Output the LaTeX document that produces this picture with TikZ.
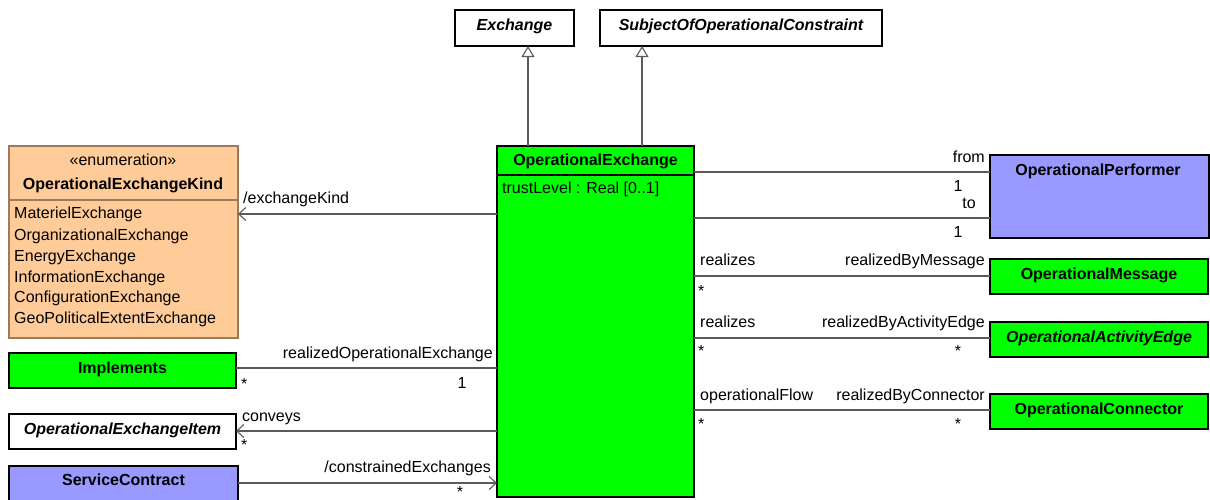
\documentclass[tikz,border=0pt]{standalone}
\usepackage{fontspec}
\setmainfont{Liberation Sans}
\usetikzlibrary{arrows.meta}
\definecolor{umlgreen}{HTML}{00FF00}
\definecolor{umlblue}{HTML}{9999FF}
\definecolor{umlorange}{HTML}{FFCC99}
\definecolor{enumborder}{HTML}{9C7A5B}
\definecolor{linegray}{HTML}{5A5A5A}
\begin{document}
\begin{tikzpicture}[x=1pt,y=-1pt,
  every node/.style={font=\fontsize{16}{19}\selectfont},
  box/.style={draw=black, line width=1.2pt, anchor=north west, inner sep=0pt, outer sep=0pt},
  lbl/.style={inner sep=0pt, text height=11.5pt, text depth=3.4pt},
  title/.style={lbl, font=\fontsize{16}{19}\selectfont\bfseries},
  ititle/.style={lbl, font=\fontsize{16}{19}\selectfont\bfseries\itshape},
  assoc/.style={draw=linegray, line width=1.1pt},
  nav/.style={assoc, -{Straight Barb[length=7pt,width=13pt,line width=1.1pt]}},
  gen/.style={assoc, -{Triangle[length=11pt,width=13pt,fill=white,line width=1.1pt]}},
]
\useasboundingbox (0,0) rectangle (1210,499);

% ---- boxes ----
\node[box, fill=white, minimum width=119pt, minimum height=36pt] (exch) at (455,10) {};
\node[ititle] (exchT) at ([yshift=1.5pt]exch.center) {Exchange};
\node[box, fill=white, minimum width=282pt, minimum height=36pt] (sooc) at (600,10) {};
\node[ititle] (soocT) at ([yshift=1.5pt]sooc.center) {SubjectOfOperationalConstraint};

\node[box, fill=umlgreen, minimum width=197pt, minimum height=351pt] (oe) at (497,146) {};
\coordinate (oeSepL) at (497,175);
\coordinate (oeSepR) at (694,175);
\draw[line width=1.2pt] (oeSepL) -- (oeSepR);
\node[title] (oeT) at (595.5,161.5) {OperationalExchange};
\node[lbl, anchor=west] (oeA) at (502,189.5) {trustLevel : Real [0..1]};

\node[box, draw=enumborder, fill=umlorange, minimum width=229pt, minimum height=192pt] (enum) at (9,146) {};
\coordinate (enSepL) at (9,200);
\coordinate (enSepR) at (238,200);
\draw[line width=1.2pt, draw=enumborder] (enSepL) -- (enSepR);
\node[lbl] (enS) at (123,161.5) {«enumeration»};
\node[title] (enT) at (123,185.5) {OperationalExchangeKind};
\node[lbl, anchor=west] (en1) at (14,214.7) {MaterielExchange};
\node[lbl, anchor=west] (en2) at (14,236.2) {OrganizationalExchange};
\node[lbl, anchor=west] (en3) at (14,257.2) {EnergyExchange};
\node[lbl, anchor=west] (en4) at (14,278.2) {InformationExchange};
\node[lbl, anchor=west] (en5) at (14,298.7) {ConfigurationExchange};
\node[lbl, anchor=west] (en6) at (14,319.2) {GeoPoliticalExtentExchange};

\node[box, fill=umlgreen, minimum width=227pt, minimum height=35pt] (impl) at (9,353) {};
\node[title] (implT) at ([yshift=1.5pt]impl.center) {Implements};
\node[box, fill=white, minimum width=227pt, minimum height=35pt] (oei) at (9,414) {};
\node[ititle] (oeiT) at ([yshift=1.5pt]oei.center) {OperationalExchangeItem};
\node[box, fill=umlblue, minimum width=229pt, minimum height=36pt] (sc) at (9,466) {};
\node[title] (scT) at (123.5,481.5) {ServiceContract};

\node[box, fill=umlblue, minimum width=219pt, minimum height=83pt] (op) at (990,155) {};
\node[title] (opT) at (1098,171.5) {OperationalPerformer};
\node[box, fill=umlgreen, minimum width=218pt, minimum height=35pt] (om) at (990,259) {};
\node[title] (omT) at ([yshift=1.5pt]om.center) {OperationalMessage};
\node[box, fill=umlgreen, minimum width=218pt, minimum height=35pt] (oae) at (990,322) {};
\node[ititle] (oaeT) at ([yshift=1.5pt]oae.center) {OperationalActivityEdge};
\node[box, fill=umlgreen, minimum width=218pt, minimum height=35pt] (oc) at (990,394) {};
\node[title] (ocT) at ([yshift=1.5pt]oc.center) {OperationalConnector};

% ---- generalizations ----
\draw[gen] (528,0 |- oe.north) -- (528,0 |- exch.south);
\draw[gen] (642,0 |- oe.north) -- (642,0 |- sooc.south);

% ---- left associations ----
\draw[nav] (oe.west |- 0,214) -- (enum.east |- 0,214);
\node[lbl, anchor=west] (lek) at (243,199) {/exchangeKind};

\draw[assoc] (oe.west |- 0,368) -- (impl.east |- 0,368);
\node[lbl, anchor=east] (lroe) at (493,354.5) {realizedOperationalExchange};
\node[lbl, anchor=west] (lim1) at (241,385) {*};
\node[lbl] (lim2) at (462,384.5) {1};

\draw[nav] (oe.west |- 0,431) -- (oei.east |- 0,431);
\node[lbl, anchor=west] (lcv) at (242,417.5) {conveys};
\node[lbl, anchor=west] (lcv1) at (241,446) {*};

\draw[nav] (sc.east |- 0,483) -- (oe.west |- 0,483);
\node[lbl, anchor=east] (lce) at (491,468.5) {/constrainedExchanges};
\node[lbl, text depth=0pt] (lce1) at (460,492) {*};

% ---- right associations ----
\draw[assoc] (oe.east |- 0,172) -- (op.west |- 0,172);
\node[lbl, anchor=east] (lfrom) at (985,158.5) {from};
\node[lbl] (lfrom1) at (958,187.5) {1};
\draw[assoc] (oe.east |- 0,218) -- (op.west |- 0,218);
\node[lbl] (lto) at (969,204.5) {to};
\node[lbl] (lto1) at (958,233.5) {1};

\draw[assoc] (oe.east |- 0,276) -- (om.west |- 0,276);
\node[lbl, anchor=west] (lrm1) at (700,261.5) {realizes};
\node[lbl, anchor=east] (lrm2) at (985,261.5) {realizedByMessage};
\node[lbl, anchor=west] (lrm3) at (698,292) {*};

\draw[assoc] (oe.east |- 0,338) -- (oae.west |- 0,338);
\node[lbl, anchor=west] (lra1) at (700,323.5) {realizes};
\node[lbl, anchor=east] (lra2) at (985,323.5) {realizedByActivityEdge};
\node[lbl, anchor=west] (lra3) at (698,352) {*};
\node[lbl] (lra4) at (958,352) {*};

\draw[assoc] (oe.east |- 0,410) -- (oc.west |- 0,410);
\node[lbl, anchor=west] (lrc1) at (700,396.5) {operationalFlow};
\node[lbl, anchor=east] (lrc2) at (985,396.5) {realizedByConnector};
\node[lbl, anchor=west] (lrc3) at (698,425) {*};
\node[lbl] (lrc4) at (958,425) {*};
\end{tikzpicture}
\end{document}
